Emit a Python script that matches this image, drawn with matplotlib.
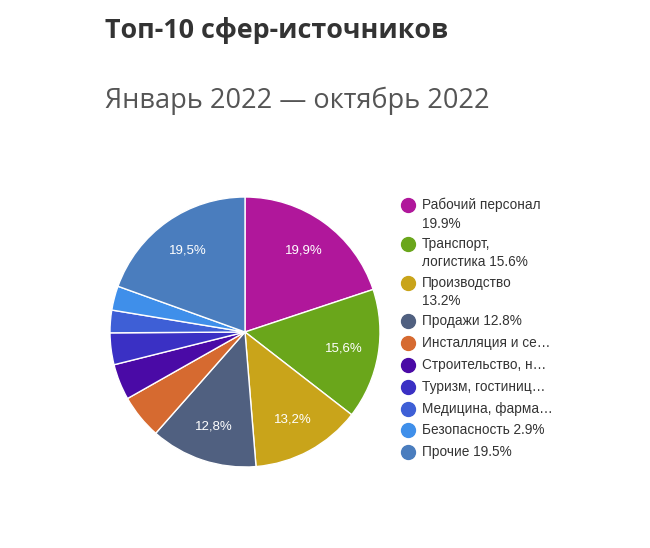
import matplotlib.pyplot as plt

plt.rcParams['font.family'] = ['Open Sans', 'DejaVu Sans']

# slice values, percent
values = [19.9, 15.6, 13.2, 12.8, 5.3, 4.3, 3.8, 2.7, 2.9, 19.5]
legend_labels = [
    "Рабочий персонал\n19.9%",
    "Транспорт,\nлогистика 15.6%",
    "Производство\n13.2%",
    "Продажи 12.8%",
    "Инсталляция и се…",
    "Строительство, н…",
    "Туризм, гостиниц…",
    "Медицина, фарма…",
    "Безопасность 2.9%",
    "Прочие 19.5%",
]
colors = [
    "#b0179b", "#6aa61b", "#c9a41a", "#506080", "#d66a30",
    "#4a0aa6", "#3a30c4", "#3e5fd6", "#3f8fea", "#4a7dbe",
]

W, H = 650, 548
fig = plt.figure(figsize=(W / 100, H / 100), dpi=100)

fig.text(105 / W, 1 - 31 / H, "Топ-10 сфер-источников",
         fontsize=19.4, fontweight="bold", color="#333333", va="center")
fig.text(105 / W, 1 - 101 / H, "Январь 2022 — октябрь 2022",
         fontsize=19.5, color="#555555", va="center")

r = 135
cx, cy = 245, 332
ax = fig.add_axes([(cx - r) / W, 1 - (cy + r) / H, 2 * r / W, 2 * r / H])


def fmt(p):
    return f"{p:.1f}".replace(".", ",") + "%" if p > 10 else ""


wedges, texts, autotexts = ax.pie(
    values, colors=colors, startangle=90, counterclock=False,
    autopct=fmt, pctdistance=0.74,
    wedgeprops=dict(edgecolor="white", linewidth=1),
    textprops=dict(color="white", fontsize=9.5, family="Liberation Sans"),
)
ax.set_xlim(-1, 1)
ax.set_ylim(-1, 1)
ax.set_aspect("equal")

# legend drawn by hand: marker sits on the first line of each entry
lg = fig.add_axes([0, 0, 1, 1], facecolor="none")
lg.set_xlim(0, W)
lg.set_ylim(H, 0)
lg.axis("off")
line_h, gap = 17, 4.8
y = 205
for c, lab in zip(colors, legend_labels):
    lg.plot(408, y, "o", color=c, markersize=10)
    lg.text(422, y - 7, lab, va="top", ha="left", color="#333333",
            family="Liberation Sans", fontsize=9.8, linespacing=1.4)
    y += line_h * (lab.count("\n") + 1) + gap

fig.savefig("out.png", dpi=100, facecolor="white")
